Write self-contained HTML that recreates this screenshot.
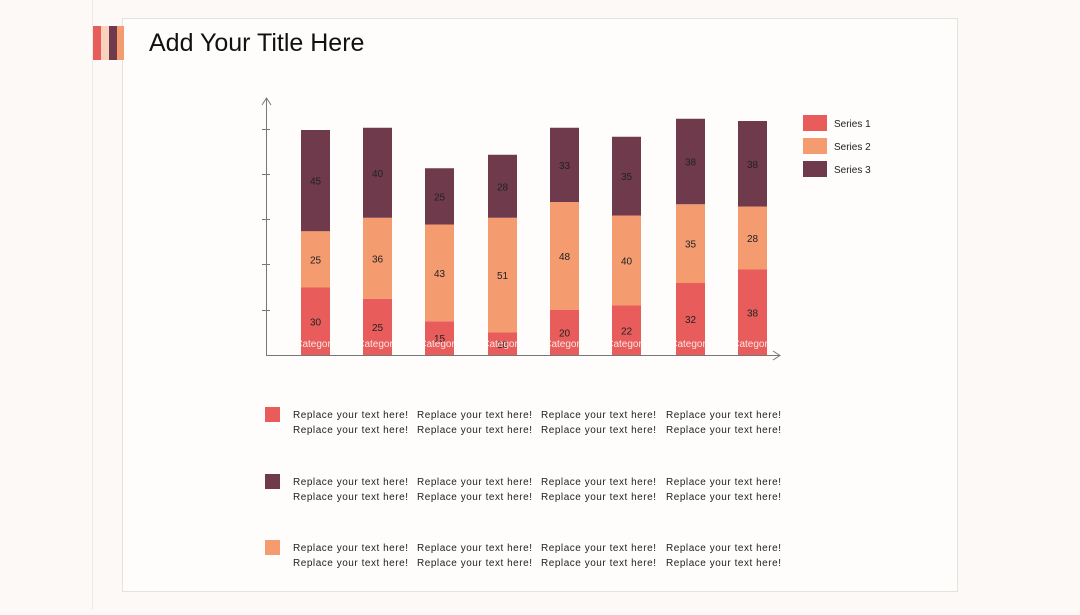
<!DOCTYPE html>
<html><head><meta charset="utf-8"><style>
body{margin:0;width:1080px;height:610px;background:#fcf9f6;overflow:hidden;font-family:"Liberation Sans",sans-serif;}
</style></head><body>
<svg width="1080" height="610" xmlns="http://www.w3.org/2000/svg" font-family="Liberation Sans, sans-serif">
<line x1="92.5" y1="0" x2="92.5" y2="610" stroke="#eeeae6"/>
<rect x="122.5" y="18.5" width="835" height="573" fill="#fffdfb" stroke="#e6e2de"/>
<rect x="93" y="26" width="8" height="34" fill="#e85c5c"/>
<rect x="101" y="26" width="8" height="34" fill="#f9d2bd"/>
<rect x="109" y="26" width="8" height="34" fill="#6e3a4c"/>
<rect x="117" y="26" width="7" height="34" fill="#f59b70"/>
<text x="149" y="51" font-size="25" fill="#111">Add Your Title Here</text>
<g stroke="#777" fill="none">
<line x1="266.5" y1="98" x2="266.5" y2="355"/>
<line x1="266" y1="355.5" x2="780" y2="355.5"/>
<polyline points="262,105 266.5,98 271,105"/>
<polyline points="773,351 780,355.5 773,360"/>
<line x1="262" y1="129.5" x2="270" y2="129.5"/><line x1="262" y1="174.5" x2="270" y2="174.5"/><line x1="262" y1="219.5" x2="270" y2="219.5"/><line x1="262" y1="264.5" x2="270" y2="264.5"/><line x1="262" y1="310.5" x2="270" y2="310.5"/>
</g>
<g id="bars" font-size="10" text-anchor="middle" fill="#222"></g>
<g font-size="10" fill="#222">
<rect x="803" y="115" width="24" height="16" fill="#e85c5c"/><text x="834" y="127">Series 1</text>
<rect x="803" y="138" width="24" height="16" fill="#f59b70"/><text x="834" y="150">Series 2</text>
<rect x="803" y="161" width="24" height="16" fill="#6e3a4c"/><text x="834" y="173">Series 3</text>
</g>
<g id="notes" font-size="10" fill="#222"></g>
</svg>
<script>
var d=[[30,25,45],[25,36,40],[15,43,25],[10,51,28],[20,48,33],[22,40,35],[32,35,38],[38,28,38]];
var xs=[301,363,425,488,550,612,676,738],c=["#e85c5c","#f59b70","#6e3a4c"],k=2.25;
var g=document.getElementById("bars"),h="";
d.forEach(function(b,i){var y=355,x=xs[i];b.forEach(function(v,j){var hh=v*k;y-=hh;
h+='<rect x="'+x+'" y="'+y+'" width="29" height="'+hh+'" fill="'+c[j]+'"/>';
h+='<text x="'+(x+14.5)+'" y="'+(y+hh/2+4)+'">'+v+'</text>';});
h+='<svg x="'+x+'" y="336" width="29" height="14"><text x="14.5" y="11" fill="#fbe6e0" text-anchor="middle" font-size="10">Category</text></svg>';});
g.innerHTML=h;
var n=document.getElementById("notes"),s="";
[[407,"#e85c5c"],[474,"#6e3a4c"],[540,"#f59b70"]].forEach(function(r){
s+='<rect x="265" y="'+r[0]+'" width="15" height="15" fill="'+r[1]+'"/>';
[293,417,541,666].forEach(function(x){s+='<text x="'+x+'" y="'+(r[0]+11)+'" textLength="115">Replace your text here!</text><text x="'+x+'" y="'+(r[0]+26)+'" textLength="115">Replace your text here!</text>';});});
n.innerHTML=s;
</script>
</body></html>
